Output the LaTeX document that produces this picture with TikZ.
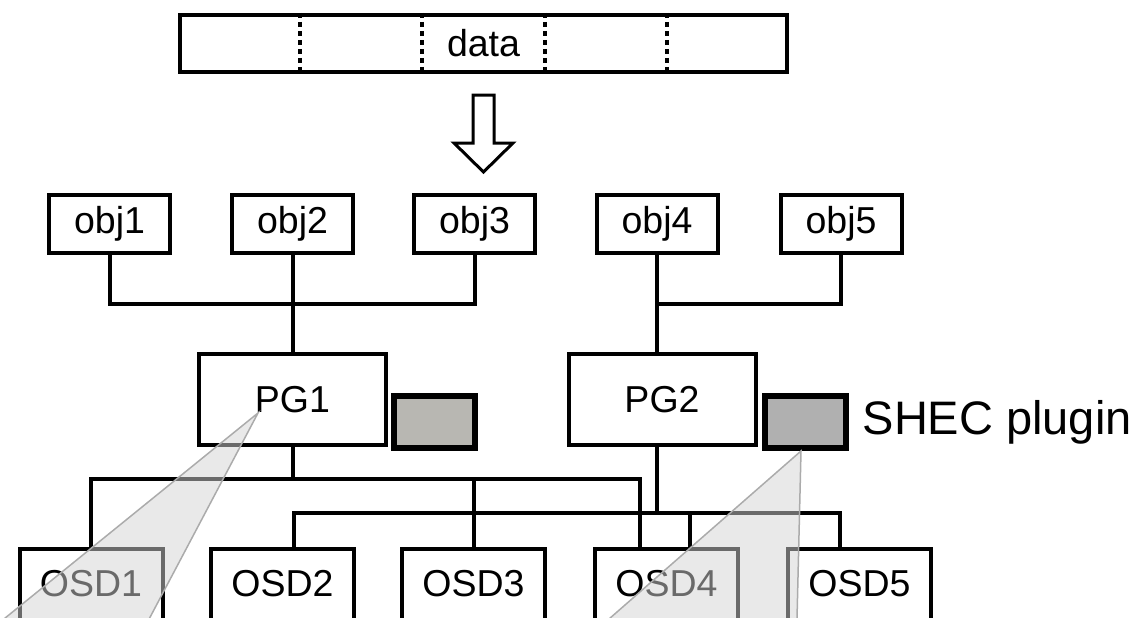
\documentclass[tikz,border=0pt]{standalone}
\usepackage{fontspec}
\setmainfont{Liberation Sans}
\usetikzlibrary{calc}
\definecolor{plugA}{RGB}{184,183,178}
\definecolor{plugB}{RGB}{176,176,176}
\tikzset{
  box/.style={draw, line width=4pt, minimum width=121pt, minimum height=58pt, inner sep=0pt, font=\fontsize{37.5}{40}\selectfont},
  pgbox/.style={box, minimum width=187pt, minimum height=91pt},
  plugbox/.style={draw, line width=6pt, minimum width=81pt, minimum height=52pt},
  osdbox/.style={box, anchor=north, minimum width=143pt, inner ysep=20pt, text height=27pt, text depth=40pt},
  wire/.style={line width=4pt},
  divider/.style={line width=4pt, dash pattern=on 5pt off 4pt},
  hollow/.style={line width=3pt, line join=miter},
  zoomcone/.style={fill=black!17, fill opacity=0.5, draw=black!33, line width=1.5pt},
}

\begin{document}
\begin{tikzpicture}[x=1pt,y=-1pt]
	\useasboundingbox (0,0) rectangle (1140,618);
	\clip (0,0) rectangle (1140,618);

	\node[box, minimum width=607pt, minimum height=57pt] (data) at (483.5,43.5) {data};
	\foreach \i in {1,...,4}
		\draw[divider] ($(data.north west)!\i/5!(data.north east)$) -- ($(data.south west)!\i/5!(data.south east)$);
	\draw[hollow] ([yshift=-21pt]data.south) ++(-10.5,0) -- ++(21,0) -- ++(0,48) -- ++(19,0) -- ++(-29.5,29) -- ++(-29.5,-29) -- ++(19,0) -- cycle;

	\node[box] (obj1) at (109.5,224) {obj1};
	\node[box] (obj2) at (292.5,224) {obj2};
	\node[box] (obj3) at (474.5,224) {obj3};
	\node[box] (obj4) at (657,224) {obj4};
	\node[box] (obj5) at (841,224) {obj5};

	\node[pgbox] (pg1) at (292.5,399.5) {PG1};
	\node[pgbox] (pg2) at (662,399.5) {PG2};
	\node[plugbox, fill=plugA] (plug1) at (434.5,422) {};
	\node[plugbox, fill=plugB] (plug2) at (805,422) {};
	\node[anchor=west, inner sep=0pt, font=\fontsize{47}{50}\selectfont] (shec) at ([xshift=14pt]plug2.east) {SHEC plugin};

	\node[osdbox] (osd1) at (91,547) {OSD1};
	\node[osdbox] (osd2) at (282.5,547) {OSD2};
	\node[osdbox] (osd3) at (473.5,547) {OSD3};
	\node[osdbox] (osd4) at (666.5,547) {OSD4};
	\node[osdbox] (osd5) at (859.5,547) {OSD5};

	\coordinate (jL) at ($(obj2.south)!0.5!(pg1.north)$);
	\draw[wire] (obj1.south) |- (jL) -| (obj3.south);
	\draw[wire] (obj2.south) -- (pg1.north);
	\coordinate (jR) at ($(obj4.south)!0.5!(obj4.south |- pg2.north)$);
	\draw[wire] (obj4.south) -- (obj4.south |- pg2.north);
	\draw[wire] (jR) -| (obj5.south);

	\coordinate (busA) at ($(pg1.south)+(0,32)$);
	\draw[wire] (pg1.south) -- (busA);
	\draw[wire] (osd1.north) |- (busA) -| ([xshift=-26.5pt]osd4.north);
	\draw[wire] (busA -| osd3.north) -- (osd3.north);
	\coordinate (busB) at ($(pg2.south)+(-5,66)$);
	\draw[wire] (pg2.south -| busB) -- (busB);
	\draw[wire] ([xshift=11.5pt]osd2.north) |- (busB) -| ([xshift=-19.5pt]osd5.north);
	\draw[wire] ([xshift=23.5pt]osd4.north) -- ([xshift=23.5pt]osd4.north |- busB);

	\coordinate (tip1) at (258,413);
	\coordinate (tip2) at ([xshift=-4pt]plug2.south);
	\draw[zoomcone] (tip1) -- (-22,640) -- (138,640) -- cycle;
	\draw[zoomcone] (tip2) -- (585,640) -- (796.5,640) -- cycle;
\end{tikzpicture}
\end{document}
